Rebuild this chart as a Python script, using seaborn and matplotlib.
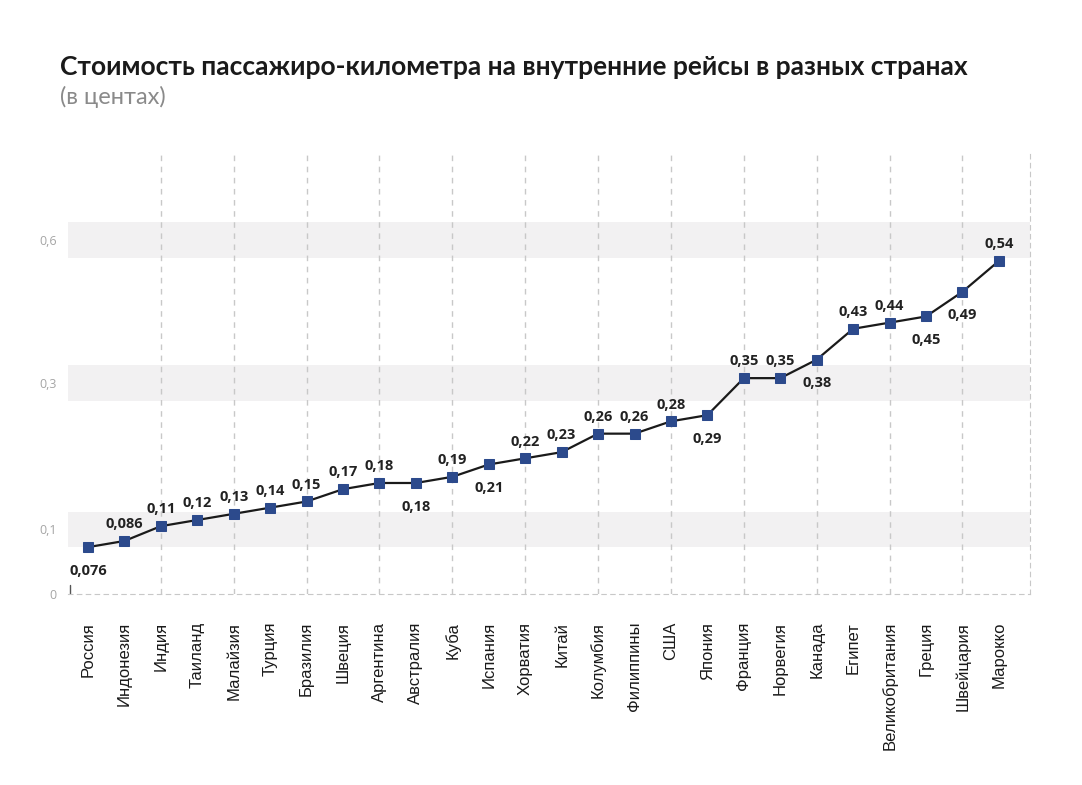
import matplotlib
matplotlib.use("Agg")
import matplotlib.pyplot as plt
import seaborn as sns
import pandas as pd

# ---- data ----
countries = ["Россия", "Индонезия", "Индия", "Таиланд", "Малайзия", "Турция",
             "Бразилия", "Швеция", "Аргентина", "Австралия", "Куба", "Испания",
             "Хорватия", "Китай", "Колумбия", "Филиппины", "США", "Япония",
             "Франция", "Норвегия", "Канада", "Египет", "Великобритания",
             "Греция", "Швейцария", "Марокко"]
costs = [0.076, 0.086, 0.11, 0.12, 0.13, 0.14, 0.15, 0.17, 0.18, 0.18, 0.19,
         0.21, 0.22, 0.23, 0.26, 0.26, 0.28, 0.29, 0.35, 0.35, 0.38, 0.43,
         0.44, 0.45, 0.49, 0.54]
label_texts = ["0,076", "0,086", "0,11", "0,12", "0,13", "0,14", "0,15", "0,17",
               "0,18", "0,18", "0,19", "0,21", "0,22", "0,23", "0,26", "0,26",
               "0,28", "0,29", "0,35", "0,35", "0,38", "0,43", "0,44", "0,45",
               "0,49", "0,54"]
below = {"Россия", "Австралия", "Испания", "Япония", "Канада", "Греция", "Швейцария"}

# y tick labels as printed in the source (positions sit at band centres)
ytick_pos = [0.0, 0.105, 0.342, 0.574]
ytick_labels = ["0", "0,1", "0,3", "0,6"]
bands = [(0.076, 0.133), (0.313, 0.371), (0.545, 0.603)]

df = pd.DataFrame({"country": countries, "cost": costs})
df["x"] = range(len(df))

sns.set_style("white")
plt.rcParams["font.family"] = ["Liberation Sans", "DejaVu Sans"]

fig = plt.figure(figsize=(10.82, 7.85), dpi=100)
ax = fig.add_axes([0.0628, 0.2433, 0.889, 0.5657])

for lo, hi in bands:
    ax.axhspan(lo, hi, color="#f2f1f2", zorder=0, lw=0)

for i in range(2, len(countries), 2):
    ax.axvline(i, color="#c8c8c8", ls=(0, (4, 4)), lw=1, zorder=1)

sns.lineplot(data=df, x="x", y="cost", ax=ax, color="#1a1a1a", lw=1.6,
             marker="s", markersize=7.5, markerfacecolor="#2c4a8c",
             markeredgecolor="#2c4a8c", zorder=3)

for c, x, y, t in zip(countries, df["x"], costs, label_texts):
    dy = -17 if c in below else 12
    ax.annotate(t, (x, y), xytext=(0, dy), textcoords="offset points",
                ha="center", va="center", fontsize=10.5, fontweight="bold",
                color="#222222", family=["Open Sans", "DejaVu Sans"])

ax.set_xlim(-0.55, 25.85)
ax.set_ylim(0, 0.72)
ax.set_xticks(df["x"])
ax.set_xticklabels(countries, rotation=90, fontsize=12, color="#1a1a1a")
ax.set_yticks(ytick_pos)
ax.set_yticklabels(ytick_labels, fontsize=9, color="#a5a5a5",
                   family=["Open Sans", "DejaVu Sans"])
ax.tick_params(axis="x", length=0, pad=20)
ax.tick_params(axis="y", length=0, pad=8)
ax.set_xlabel("")
ax.set_ylabel("")

for s in ["top", "left"]:
    ax.spines[s].set_visible(False)
ax.spines["bottom"].set_linestyle((0, (4, 4)))
ax.spines["bottom"].set_color("#c8c8c8")
ax.spines["right"].set_linestyle((0, (4, 4)))
ax.spines["right"].set_color("#c8c8c8")
ax.axvline(-0.5, ymin=0, ymax=0.02, color="#555555", lw=1)

fig.text(0.055, 0.915, "Стоимость пассажиро-километра на внутренние рейсы в разных странах",
         fontsize=19, fontweight="bold", color="#1a1a1a",
         family=["Lato", "DejaVu Sans"], va="center")
fig.text(0.055, 0.877, "(в центах)", fontsize=17, color="#8a8a8a",
         family=["Lato", "DejaVu Sans"], va="center")

fig.savefig("out.png", dpi=100)
